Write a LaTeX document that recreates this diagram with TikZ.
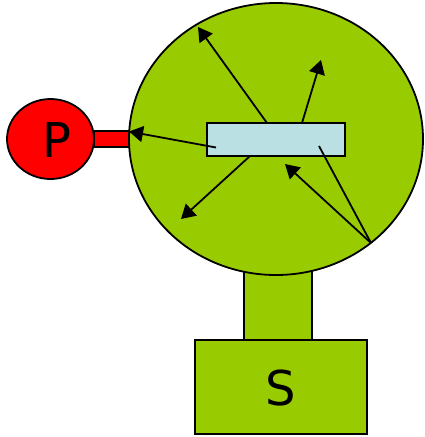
\documentclass[tikz,border=0pt]{standalone}
\usepackage{fontspec}
\setmainfont{DejaVu Sans}
\usetikzlibrary{arrows.meta,positioning,shapes.geometric,calc}
\definecolor{leaf}{RGB}{153,204,0}
\definecolor{pale}{RGB}{187,224,227}
\begin{document}
\begin{tikzpicture}[
  x=1pt, y=-1pt, >={Triangle[length=14pt,width=16pt]}, line width=1.8pt,
  blob/.style={ellipse, draw, inner sep=0pt},
  block/.style={rectangle, draw, inner sep=0pt},
  big/.style={font=\fontsize{48}{50}\selectfont},
  ray/.style={->},
]
\useasboundingbox (0,0) rectangle (424,437);
\node[block, fill=red, minimum width=36pt, minimum height=16pt] (bar) at (112,139) {};
\node[block, fill=leaf, minimum width=68pt, minimum height=70pt] (neck) at (278,305) {};
\node[blob, fill=leaf, minimum width=294pt, minimum height=272pt] (cell) at (276,139) {};
\node[blob, fill=red, minimum width=87pt, minimum height=80pt,
  label={[big, xshift=6pt, yshift=-1pt]center:P}] (P) at (50.5,139) {};
\node[block, fill=leaf, minimum width=172pt, minimum height=94pt,
  label={[big, yshift=-1.5pt]center:S}] (S) at (281,387) {};
\node[block, fill=pale, minimum width=138pt, minimum height=33pt] (slit) at (276,139.5) {};
% ends of the rays
\coordinate (a1) at (267,123);
\coordinate (a2) at (198,27);
\coordinate (b1) at (302,123);
\coordinate (b2) at (321,60);
\coordinate (c1) at (216,147.5);
\coordinate (c2) at (129,131.5);
\coordinate (d1) at (250,156);
\coordinate (d2) at (181,219);
\coordinate (e1) at (371,243);
\coordinate (e2) at (285,164);
\coordinate (e3) at (319,146);
\draw[ray] (a1) -- (a2);
\draw[ray] (b1) -- (b2);
\draw[ray] (c1) -- (c2);
\draw[ray] (d1) -- (d2);
\draw[ray] (e1) -- (e2);
\draw (e1) -- (e3);
\end{tikzpicture}
\end{document}
